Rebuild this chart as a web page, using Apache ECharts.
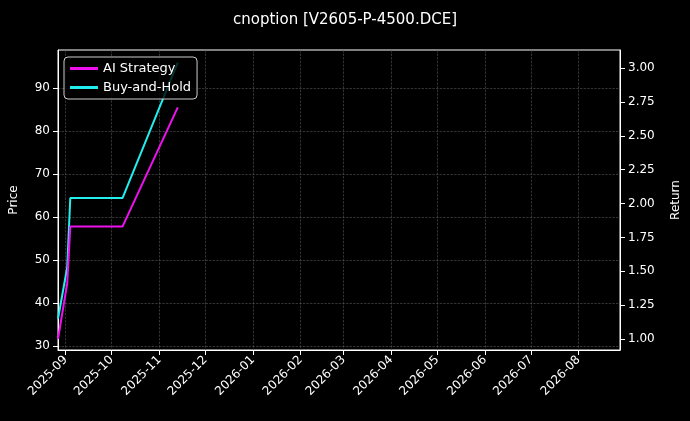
<!DOCTYPE html>
<html>
<head>
<meta charset="utf-8">
<script src="https://cdn.jsdelivr.net/npm/echarts@6/dist/echarts.min.js"></script>
<style>html,body{margin:0;background:#000;}#main{width:690px;height:421px;}</style>
</head>
<body>
<div id="main"></div>
<script>
var dates = ['2025-08-27', '2025-09-02', '2025-09-04', '2025-10-08', '2025-11-13'];
var aiStrategy = [1.00, 1.41, 1.83, 1.83, 2.71];
var buyHold = [1.15, 1.53, 2.04, 2.04, 3.04];
var monthTicks = ['2025-09', '2025-10', '2025-11', '2025-12', '2026-01', '2026-02', '2026-03',
    '2026-04', '2026-05', '2026-06', '2026-07', '2026-08'];
var priceTicks = [30, 40, 50, 60, 70, 80, 90];
var returnTicks = [1.00, 1.25, 1.50, 1.75, 2.00, 2.25, 2.50, 2.75, 3.00];

function ts(s) { return new Date(s + (s.length === 7 ? '-01' : '') + 'T00:00:00Z').getTime(); }
var monthTs = monthTicks.map(ts);

function pairs(vals) {
    return dates.map(function (d, i) { return [ts(d), vals[i]]; });
}
function fmtMonth(v) {
    var d = new Date(v);
    var m = d.getUTCMonth() + 1;
    return d.getUTCFullYear() + '-' + (m < 10 ? '0' : '') + m;
}

var myChart = echarts.init(document.getElementById('main'));
var grey = { color: '#555', type: 'dashed', width: 0.6 };
myChart.setOption({
    backgroundColor: '#000',
    animation: false,
    title: {
        text: 'cnoption [V2605-P-4500.DCE]',
        left: 'center',
        top: 8,
        textStyle: { color: '#fff', fontSize: 15, fontWeight: 'normal', fontFamily: 'DejaVu Sans' }
    },
    grid: { left: 57, right: 70, top: 50, bottom: 71, show: true, borderColor: '#fff', borderWidth: 1 },
    legend: {
        left: 64, top: 57, orient: 'vertical',
        data: ['AI Strategy', 'Buy-and-Hold'],
        backgroundColor: 'rgba(0,0,0,0.8)',
        borderColor: '#ccc', borderWidth: 1, borderRadius: 4,
        padding: [5, 6], itemGap: 6,
        itemWidth: 28, itemHeight: 3, icon: 'rect',
        textStyle: { color: '#fff', fontSize: 13, fontFamily: 'DejaVu Sans' }
    },
    xAxis: {
        type: 'value',
        min: ts('2025-08-27'), max: ts('2026-08-28'),
        axisLine: { lineStyle: { color: '#fff' } },
        axisTick: { show: true, customValues: monthTs, lineStyle: { color: '#fff' } },
        axisLabel: {
            customValues: monthTs, rotate: 45, color: '#fff', fontSize: 12, fontFamily: 'DejaVu Sans',
            formatter: fmtMonth
        },
        splitLine: { show: true, lineStyle: grey }
    },
    yAxis: [{
        type: 'value', min: 29.07, max: 98.84,
        name: 'Price', nameLocation: 'middle', nameGap: 38,
        nameTextStyle: { color: '#fff', fontSize: 12, fontFamily: 'DejaVu Sans' },
        axisLine: { show: true, lineStyle: { color: '#fff' } },
        axisTick: { show: true, customValues: priceTicks, lineStyle: { color: '#fff' } },
        axisLabel: { customValues: priceTicks, color: '#fff', fontSize: 12, fontFamily: 'DejaVu Sans' },
        splitLine: { show: true, lineStyle: grey }
    }, {
        type: 'value', min: 0.919, max: 3.133, position: 'right',
        name: 'Return', nameLocation: 'middle', nameGap: 50,
        nameTextStyle: { color: '#fff', fontSize: 12, fontFamily: 'DejaVu Sans' },
        axisLine: { show: true, lineStyle: { color: '#fff' } },
        axisTick: { show: true, customValues: returnTicks, lineStyle: { color: '#fff' } },
        axisLabel: {
            customValues: returnTicks, color: '#fff', fontSize: 12, fontFamily: 'DejaVu Sans',
            formatter: function (v) { return v.toFixed(2); }
        },
        splitLine: { show: false }
    }],
    series: [{
        name: 'AI Strategy', type: 'line', yAxisIndex: 1, showSymbol: false,
        data: pairs(aiStrategy), itemStyle: { color: '#ee11ee' }, lineStyle: { color: '#ee11ee', width: 2 }, z: 3
    }, {
        name: 'Buy-and-Hold', type: 'line', yAxisIndex: 1, showSymbol: false,
        data: pairs(buyHold), itemStyle: { color: '#22eeee' }, lineStyle: { color: '#22eeee', width: 2 }, z: 2
    }]
});
</script>
</body>
</html>
